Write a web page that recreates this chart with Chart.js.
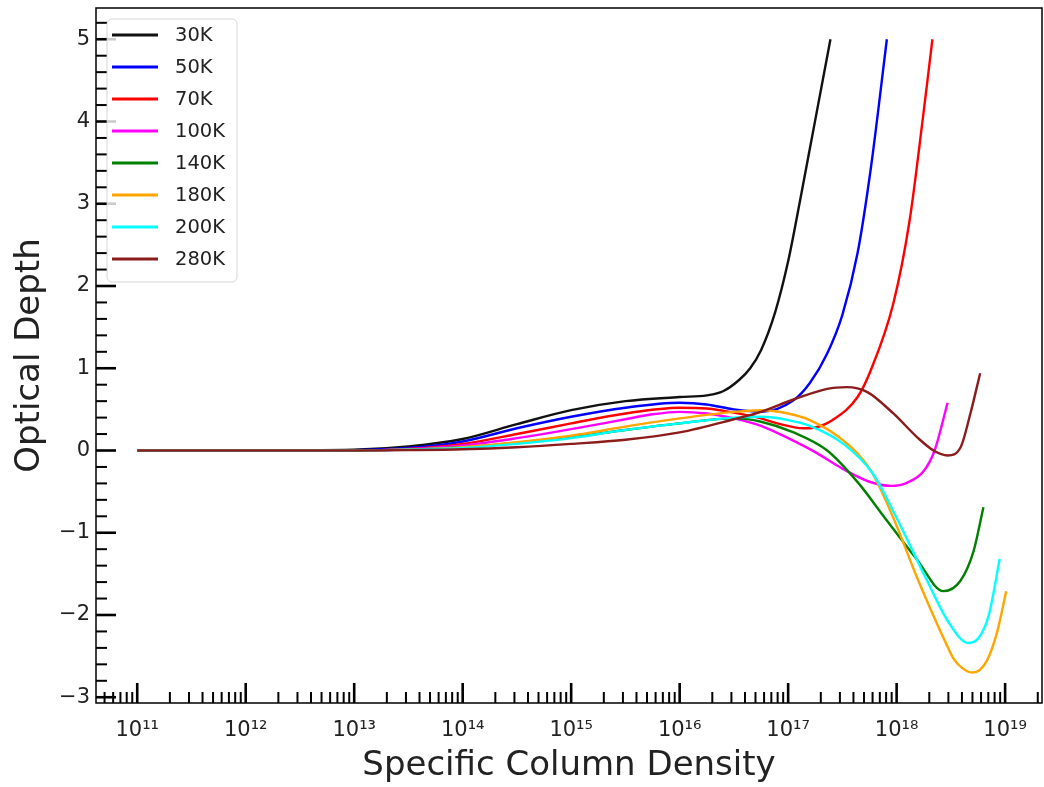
<!DOCTYPE html>
<html>
<head>
<meta charset="utf-8">
<script src="https://cdn.jsdelivr.net/npm/chart.js@4.4.1/dist/chart.umd.min.js"></script>
<style>
  html, body { margin: 0; padding: 0; background: #fff; }
  #wrap { width: 1044px; height: 787px; }
</style>
</head>
<body>
<div id="wrap"><canvas id="chart" width="1044" height="787"></canvas></div>
<script>
(() => {
  "use strict";

  // axis ranges (log10 of column density) and tick labels
  const X_MIN_EXP = 10.62;
  const X_MAX_EXP = 19.34;
  const X_DECADES = [11, 12, 13, 14, 15, 16, 17, 18, 19];
  const Y_MIN = -3.07;
  const Y_MAX = 5.38;
  const Y_TICKS = [-3, -2, -1, 0, 1, 2, 3, 4, 5];

  const LABELS = ["30K", "50K", "70K", "100K", "140K", "180K", "200K", "280K"];
  const COLORS = ["#111111", "#0000ff", "#ff0000", "#ff00ff", "#008000", "#ffa500", "#00ffff", "#8b1c1c"];

  // log10(N) positions and optical depth
  const LOGN_30K = [11, 12, 13, 13.5, 14, 14.5, 15, 15.5, 16, 16.25, 16.4, 16.55, 16.65, 16.75, 16.88, 17, 17.11, 17.25, 17.39];
  const TAU_30K  = [0, 0, 0.01, 0.05, 0.14, 0.32, 0.49, 0.60, 0.65, 0.67, 0.72, 0.86, 1.0, 1.22, 1.68, 2.3, 3.04, 4.02, 5.0];

  const LOGN_50K = [11, 12, 13, 13.5, 14, 14.5, 15, 15.5, 16, 16.25, 16.5, 16.75, 17.05, 17.2, 17.36, 17.5, 17.64, 17.76, 17.91];
  const TAU_50K  = [0, 0, 0.005, 0.03, 0.11, 0.27, 0.41, 0.52, 0.58, 0.56, 0.50, 0.47, 0.61, 0.82, 1.18, 1.65, 2.4, 3.41, 5.0];

  const LOGN_70K = [11, 12, 13, 13.5, 14, 14.5, 15, 15.5, 16, 16.25, 16.5, 16.75, 16.9, 17.14, 17.25, 17.41, 17.64, 17.76, 17.97, 18.12, 18.24, 18.33];
  const TAU_70K  = [0, 0, 0, 0.02, 0.08, 0.2, 0.33, 0.45, 0.52, 0.51, 0.46, 0.39, 0.33, 0.27, 0.28, 0.37, 0.65, 0.97, 1.79, 2.8, 4.02, 5.0];

  const LOGN_100K = [11, 12, 13, 13.5, 14, 14.5, 15, 15.5, 15.75, 16, 16.25, 16.5, 16.75, 17, 17.25, 17.5, 17.75, 17.95, 18.1, 18.25, 18.35, 18.47];
  const TAU_100K  = [0, 0, 0, 0.015, 0.06, 0.15, 0.26, 0.38, 0.44, 0.47, 0.45, 0.39, 0.3, 0.15, -0.02, -0.22, -0.38, -0.43, -0.39, -0.25, 0.0, 0.58];

  const LOGN_140K = [11, 12, 13, 13.5, 14, 14.5, 15, 15.5, 16, 16.5, 16.75, 17.05, 17.36, 17.65, 17.88, 18.19, 18.43, 18.59, 18.71, 18.8];
  const TAU_140K  = [0, 0, 0, 0.01, 0.04, 0.09, 0.16, 0.25, 0.33, 0.39, 0.35, 0.22, 0.0, -0.4, -0.8, -1.33, -1.71, -1.58, -1.22, -0.69];

  const LOGN_180K = [11, 12, 13, 13.5, 14, 14.5, 15, 15.5, 16, 16.5, 16.75, 17, 17.2, 17.51, 17.76, 17.97, 18.19, 18.37, 18.45, 18.52, 18.6, 18.7, 18.83, 18.93, 19.01];
  const TAU_180K  = [0, 0, 0, 0.01, 0.04, 0.1, 0.18, 0.29, 0.39, 0.47, 0.49, 0.45, 0.37, 0.12, -0.24, -0.82, -1.55, -2.1, -2.33, -2.52, -2.64, -2.7, -2.56, -2.19, -1.71];

  const LOGN_200K = [11, 12, 13, 13.5, 14, 14.5, 15, 15.5, 16, 16.5, 16.75, 17, 17.2, 17.51, 17.78, 18, 18.28, 18.47, 18.66, 18.76, 18.85, 18.95];
  const TAU_200K  = [0, 0, 0, 0.01, 0.03, 0.08, 0.15, 0.25, 0.33, 0.40, 0.41, 0.37, 0.30, 0.08, -0.28, -0.82, -1.58, -2.07, -2.34, -2.27, -2.0, -1.32];

  const LOGN_280K = [11, 12, 13, 13.5, 14, 14.5, 15, 15.5, 16, 16.5, 16.75, 17.05, 17.36, 17.54, 17.73, 17.97, 18.19, 18.34, 18.47, 18.59, 18.68, 18.77];
  const TAU_280K  = [0, 0, 0, 0.005, 0.015, 0.04, 0.08, 0.13, 0.22, 0.38, 0.47, 0.62, 0.75, 0.77, 0.71, 0.45, 0.16, 0.0, -0.06, 0.04, 0.45, 0.94];

  const SERIES = [
    [LOGN_30K, TAU_30K], [LOGN_50K, TAU_50K], [LOGN_70K, TAU_70K], [LOGN_100K, TAU_100K],
    [LOGN_140K, TAU_140K], [LOGN_180K, TAU_180K], [LOGN_200K, TAU_200K], [LOGN_280K, TAU_280K]
  ];

  const FONT = "'DejaVu Sans', sans-serif";
  Chart.defaults.font.family = FONT;
  Chart.defaults.color = "#222";

  const SUP = { "0": "\u2070", "1": "\u00b9", "2": "\u00b2", "3": "\u00b3", "4": "\u2074",
                "5": "\u2075", "6": "\u2076", "7": "\u2077", "8": "\u2078", "9": "\u2079" };
  function powLabel(n) {
    return "10" + String(n).split("").map(c => SUP[c] || c).join("");
  }

  const datasets = SERIES.map(([logn, tau], i) => ({
    label: LABELS[i],
    data: logn.map((e, k) => ({ x: Math.pow(10, e), y: tau[k] })),
    borderColor: COLORS[i],
    borderWidth: 2.4,
    pointRadius: 0,
    fill: false,
    cubicInterpolationMode: "monotone",
    order: -i
  }));

  function line(ctx, x1, y1, x2, y2) {
    ctx.beginPath();
    ctx.moveTo(x1, y1);
    ctx.lineTo(x2, y2);
    ctx.stroke();
  }

  // matplotlib-like frame with inward ticks, legend inside the plot
  const frameTicks = {
    id: "frameTicks",
    afterDatasetsDraw(chart) {
      const { ctx, chartArea: a, scales: { x, y } } = chart;
      ctx.save();
      ctx.strokeStyle = "#000";
      ctx.lineCap = "butt";

      for (let n = 10; n <= 19; n++) {
        for (let k = 1; k <= 9; k++) {
          const px = x.getPixelForValue(k * Math.pow(10, n));
          if (px < a.left - 0.5 || px > a.right + 0.5) continue;
          const major = k === 1;
          ctx.lineWidth = major ? 2.6 : 2;
          line(ctx, px, a.bottom, px, a.bottom - (major ? 20 : 11));
        }
      }

      for (let i = -15; i <= 26; i++) {
        const py = y.getPixelForValue(i / 5);
        if (py < a.top || py > a.bottom) continue;
        const major = i % 5 === 0;
        ctx.lineWidth = major ? 2.6 : 2;
        line(ctx, a.left, py, a.left + (major ? 20 : 11), py);
      }

      ctx.lineWidth = 1.5;
      ctx.strokeRect(a.left, a.top, a.right - a.left, a.bottom - a.top);
      ctx.restore();
    },
    afterDraw(chart) {
      const { ctx, chartArea: a } = chart;
      const bx = a.left + 11, by = a.top + 11, bw = 130, bh = 263, r = 5;
      ctx.save();
      ctx.beginPath();
      ctx.roundRect(bx, by, bw, bh, r);
      ctx.fillStyle = "rgba(255,255,255,0.8)";
      ctx.fill();
      ctx.strokeStyle = "rgba(204,204,204,0.8)";
      ctx.lineWidth = 1;
      ctx.stroke();

      ctx.font = "19.5px " + FONT;
      ctx.textBaseline = "middle";
      ctx.textAlign = "left";
      chart.data.datasets.forEach((ds, i) => {
        const yy = by + 16 + i * 32;
        ctx.strokeStyle = ds.borderColor;
        ctx.lineWidth = 3;
        line(ctx, bx + 5, yy, bx + 51, yy);
        ctx.fillStyle = "#222";
        ctx.fillText(ds.label, bx + 68, yy + 1);
      });
      ctx.restore();
    }
  };

  new Chart(document.getElementById("chart"), {
    type: "line",
    data: { datasets },
    plugins: [frameTicks],
    options: {
      responsive: false,
      devicePixelRatio: 1,
      animation: false,
      layout: { padding: { top: 8, right: 2, left: 0, bottom: 0 } },
      plugins: {
        legend: { display: false },
        tooltip: { enabled: false }
      },
      scales: {
        x: {
          type: "logarithmic",
          min: Math.pow(10, X_MIN_EXP),
          max: Math.pow(10, X_MAX_EXP),
          grid: { display: false, drawTicks: false },
          border: { display: false },
          afterBuildTicks: s => { s.ticks = X_DECADES.map(n => ({ value: Math.pow(10, n), major: true })); },
          afterFit: s => { s.height = 84; s.paddingLeft = 0; s.paddingRight = 0; },
          ticks: {
            autoSkip: false,
            maxRotation: 0,
            padding: 15,
            color: "#222",
            font: { size: 21 },
            callback: v => powLabel(Math.round(Math.log10(v)))
          },
          title: {
            display: true,
            text: "Specific Column Density",
            color: "#222",
            font: { size: 34 },
            padding: { top: 0, bottom: 0 }
          }
        },
        y: {
          type: "linear",
          min: Y_MIN,
          max: Y_MAX,
          grid: { display: false, drawTicks: false },
          border: { display: false },
          afterBuildTicks: s => { s.ticks = Y_TICKS.map(v => ({ value: v })); },
          afterFit: s => { s.width = 96; s.paddingTop = 0; s.paddingBottom = 0; },
          ticks: {
            padding: 6,
            color: "#222",
            font: { size: 21 },
            callback: v => String(v).replace("-", "\u2212")
          },
          title: {
            display: true,
            text: "Optical Depth",
            color: "#222",
            font: { size: 34 },
            padding: { top: 10, bottom: 0 }
          }
        }
      }
    }
  });
})();
</script>
</body>
</html>
